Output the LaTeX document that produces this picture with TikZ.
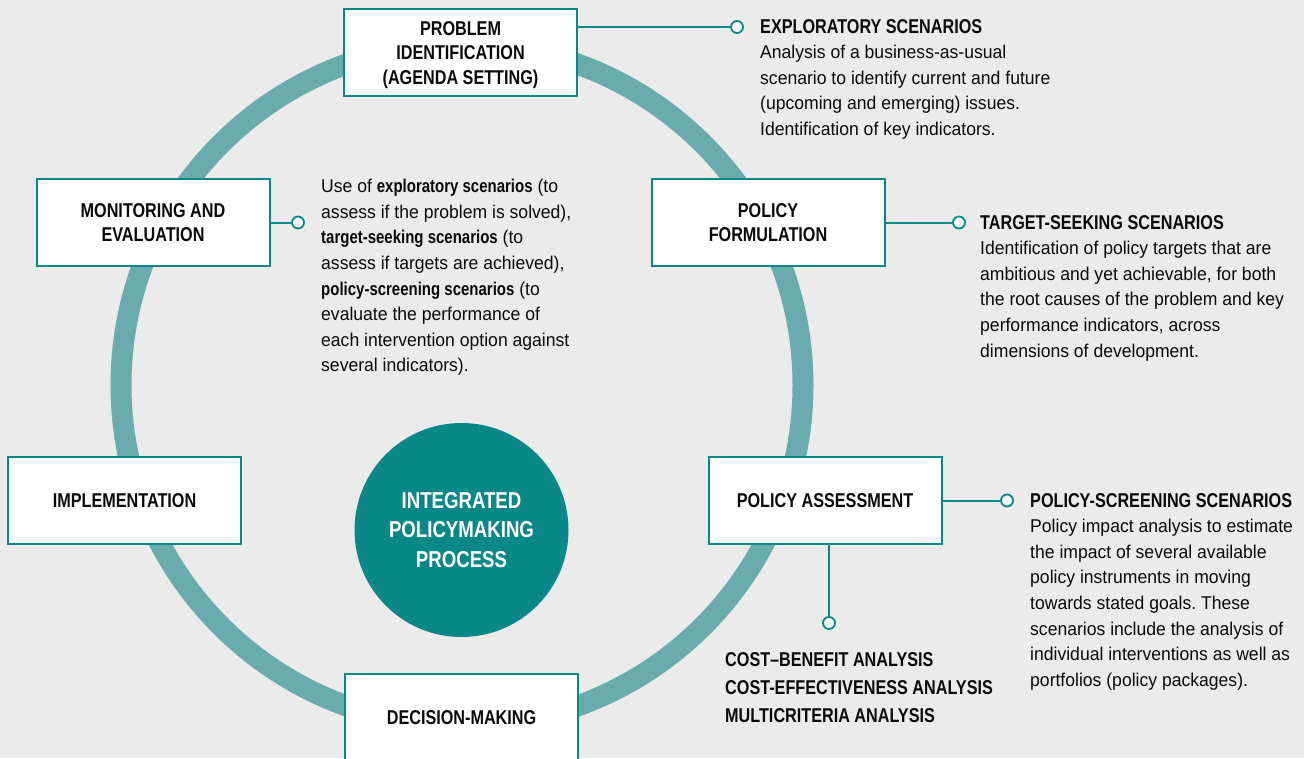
\documentclass[tikz,border=0pt]{standalone}
\usepackage{fontspec}
\setmainfont{Liberation Sans}[UprightFeatures={FakeStretch=0.95},BoldFeatures={FakeStretch=0.81}]
\usepackage{tikz}
\frenchspacing

\definecolor{tealdark}{HTML}{0A8787}
\definecolor{tealring}{HTML}{6AABAE}
\definecolor{bggray}{HTML}{EBEBEB}
\definecolor{inkblack}{HTML}{0A0A0A}

\tikzset{
  stage/.style={draw=tealdark, line width=2pt, fill=white, text=inkblack,
    minimum width=233pt, minimum height=87pt, inner sep=0pt, align=center,
    font=\fontsize{20}{24.5}\selectfont\bfseries},
  knob/.style={circle, draw=tealdark, line width=1.8pt, fill=white,
    minimum size=12pt, inner sep=0pt},
  link/.style={draw=tealdark, line width=2pt},
  note/.style={anchor=north west, align=left, inner sep=0pt, text=inkblack,
    font=\fontsize{18.5}{25.6}\selectfont}
}

\begin{document}
\begin{tikzpicture}[x=1pt,y=-1pt]
    \def \ringx {462}
    \def \ringy {385}
    \def \ringr {341pt}
    \fill[bggray] (0,0) rectangle (1304,758);
    \useasboundingbox (0,0) rectangle (1304,758);
    % the cycle
    \draw[tealring, line width=21pt] (\ringx,\ringy) circle[radius=\ringr];
    \node[circle, fill=tealdark, minimum size=214pt, inner sep=0pt, align=center,
      text=white, font=\fontsize{23}{29.5}\selectfont\bfseries] (core) at (461.5,530)
      {INTEGRATED\\POLICYMAKING\\PROCESS};
    % stages
    \node[stage] (prob)   at (460.5,52.5) {\rule{0pt}{19pt}PROBLEM\\IDENTIFICATION\\(AGENDA SETTING)};
    \node[stage] (monit)  at (153,222.5)  {MONITORING AND\\EVALUATION};
    \node[stage] (form)   at (768,222.5)  {POLICY\\FORMULATION};
    \node[stage] (impl)   at (124.5,500.5) {IMPLEMENTATION};
    \node[stage] (assess) at (825,500.5)  {POLICY ASSESSMENT};
    \node[stage] (decis)  at (461.5,717.5) {DECISION-MAKING};
    % links to the notes
    \node[knob] (k1) at (737,27) {};
    \node[knob] (k2) at (298,222.5) {};
    \node[knob] (k3) at (959,222.5) {};
    \node[knob] (k4) at (1007,500.5) {};
    \node[knob] (k5) at (829,623) {};
    \draw[link] (prob.east |- k1) -- (k1);
    \draw[link] (monit.east) -- (k2);
    \draw[link] (form.east) -- (k3);
    \draw[link] (assess.east) -- (k4);
    \draw[link] (assess.south -| k5) -- (k5);
    % notes
    \node[note] (explo) at (760,19) {{\fontsize{20}{25.6}\selectfont\bfseries EXPLORATORY SCENARIOS}\\
      Analysis of a business-as-usual\\
      scenario to identify current and future\\
      (upcoming and emerging) issues.\\
      Identification of key indicators.};
    \node[note] (uses) at (321,179) {Use of \textbf{exploratory scenarios} (to\\
      assess if the problem is solved),\\
      \textbf{target-seeking scenarios} (to\\
      assess if targets are achieved),\\
      \textbf{policy-screening scenarios} (to\\
      evaluate the performance of\\
      each intervention option against\\
      several indicators).};
    \node[note] (target) at (980,215) {{\fontsize{20}{25.6}\selectfont\bfseries TARGET-SEEKING SCENARIOS}\\
      Identification of policy targets that are\\
      ambitious and yet achievable, for both\\
      the root causes of the problem and key\\
      performance indicators, across\\
      dimensions of development.};
    \node[note] (screen) at (1030,493) {{\fontsize{20}{25.6}\selectfont\bfseries POLICY-SCREENING SCENARIOS}\\
      Policy impact analysis to estimate\\
      the impact of several available\\
      policy instruments in moving\\
      towards stated goals. These\\
      scenarios include the analysis of\\
      individual interventions as well as\\
      portfolios (policy packages).};
    \node[note, font=\fontsize{20}{28}\selectfont\bfseries] (cost) at (725,652)
      {COST–BENEFIT ANALYSIS\\COST-EFFECTIVENESS ANALYSIS\\MULTICRITERIA ANALYSIS};
\end{tikzpicture}
\end{document}
